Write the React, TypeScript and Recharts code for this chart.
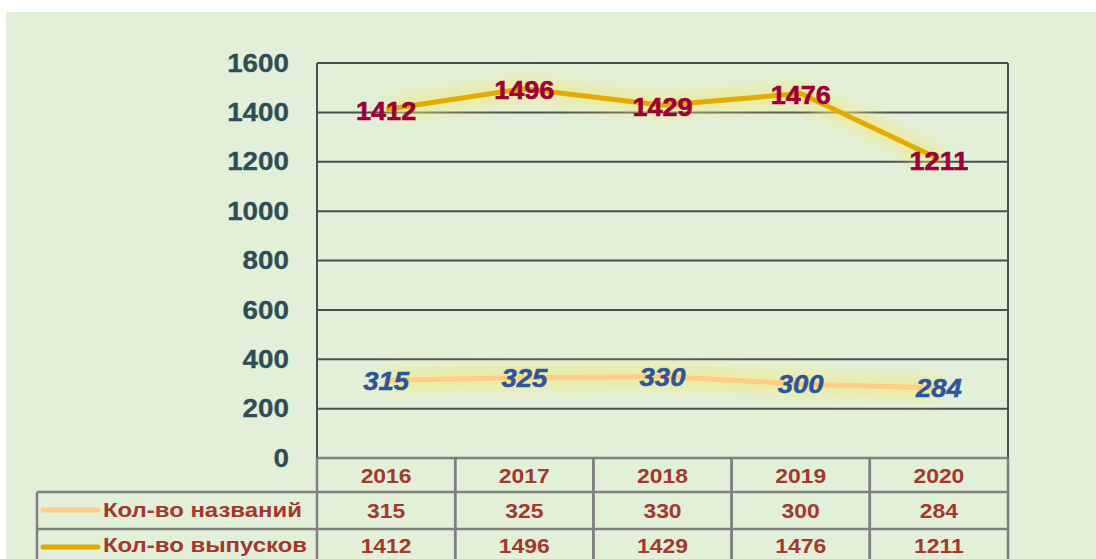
import React from "react";
import { LineChart, Line, XAxis, YAxis, CartesianGrid } from "recharts";

const years = ["2016", "2017", "2018", "2019", "2020"];
const titles = [315, 325, 330, 300, 284];
const issues = [1412, 1496, 1429, 1476, 1211];
const yTicks = [0, 200, 400, 600, 800, 1000, 1200, 1400, 1600];
const seriesNames = ["Кол-во названий", "Кол-во выпусков"];

const FONT = "Arial, 'Liberation Sans', sans-serif";
const TITLES_COLOR = "#ffcd85";
const ISSUES_COLOR = "#e3aa00";
const TABLE_TEXT = "#a3382e";
const BORDER = "#808080";

const data = years.map((year, i) => ({
  year,
  pos: i + 0.5,
  titles: titles[i],
  issues: issues[i],
}));

// text that is a bit wider than the font, as in the source picture
const Wide = ({ x, y, sx = 1.08, anchor = "middle", children, ...rest }: any) => (
  <text
    transform={`translate(${x},${y}) scale(${sx},1)`}
    textAnchor={anchor}
    dominantBaseline="central"
    fontFamily={FONT}
    fontWeight="bold"
    {...rest}
  >
    {children}
  </text>
);

const YTick = (props: any) => {
  const { x, y, payload } = props;
  return (
    <Wide x={x} y={y} sx={1.07} anchor="end" fontSize={26} fill="#2f4d55" stroke="#2f4d55" strokeWidth={0.3}>
      {payload.value}
    </Wide>
  );
};

const TableTick = (props: any) => {
  const { x, y, index, width } = props;
  const cw = width / years.length;
  const left = x - cw / 2;
  const right = x + cw / 2;
  const rows = [0, 34, 71];
  const legendW = 280;
  const tp = { fontSize: 21, fill: TABLE_TEXT, sx: 1.09 };
  return (
    <g>
      {rows.map((r) => (
        <line key={r} x1={left} x2={right} y1={y + r} y2={y + r} stroke={BORDER} strokeWidth={2.5} />
      ))}
      <line x1={left} x2={left} y1={y} y2={y + 120} stroke={BORDER} strokeWidth={2.5} />
      <line x1={right} x2={right} y1={y} y2={y + 120} stroke={BORDER} strokeWidth={2.5} />
      <Wide x={x} y={y + 17.5} {...tp}>{years[index]}</Wide>
      <Wide x={x} y={y + 52.5} {...tp}>{titles[index]}</Wide>
      <Wide x={x} y={y + 87.5} {...tp}>{issues[index]}</Wide>
      {index === 0 && (
        <g>
          <line x1={left - legendW} x2={left} y1={y + 34} y2={y + 34} stroke={BORDER} strokeWidth={2.5} />
          <line x1={left - legendW} x2={left} y1={y + 71} y2={y + 71} stroke={BORDER} strokeWidth={2.5} />
          <line x1={left - legendW} x2={left - legendW} y1={y + 34} y2={y + 120} stroke={BORDER} strokeWidth={2.5} />
          <line x1={left - legendW + 6} x2={left - legendW + 61} y1={y + 52} y2={y + 52} stroke={TITLES_COLOR} strokeWidth={5} strokeLinecap="round" />
          <line x1={left - legendW + 6} x2={left - legendW + 61} y1={y + 89} y2={y + 89} stroke={ISSUES_COLOR} strokeWidth={5} strokeLinecap="round" />
          <Wide x={left - legendW + 66} y={y + 52.5} anchor="start" {...tp} sx={1.14}>{seriesNames[0]}</Wide>
          <Wide x={left - legendW + 66} y={y + 87.5} anchor="start" {...tp} sx={1.14}>{seriesNames[1]}</Wide>
        </g>
      )}
    </g>
  );
};

const issuesLabel = (p: any) => (
  <Wide x={p.x} y={p.y + 2} sx={1.04} fontSize={26} fill="#9c0036" stroke="#9c0036" strokeWidth={0.6}>
    {p.value}
  </Wide>
);

const titlesLabel = (p: any) => (
  <Wide x={p.x} y={p.y + 1} sx={1.1} fontSize={25} fontStyle="italic" fill="#2e5597" stroke="#2e5597" strokeWidth={0.5}>
    {p.value}
  </Wide>
);

export default function App() {
  return (
    <div style={{ position: "absolute", left: 0, top: 0, width: 1096, height: 559, background: "#ffffff", overflow: "hidden" }}>
      <div style={{ position: "absolute", left: 6, top: 12, width: 1090, height: 547, background: "#e2efd9" }}>
        <LineChart width={1090} height={547} data={data} margin={{ top: 51, right: 88, bottom: 0, left: 0 }}>
          <defs>
            <filter id="glow" x="-20%" y="-200%" width="140%" height="500%">
              <feGaussianBlur stdDeviation="7" />
            </filter>
          </defs>
          <CartesianGrid xAxisId="grid" stroke="#4d4d4d" strokeWidth={2} />
          <XAxis
            xAxisId="grid"
            type="number"
            dataKey="pos"
            domain={[0, 5]}
            ticks={[1, 2, 3, 4, 5]}
            allowDataOverflow
            height={0}
            tick={false}
            axisLine={false}
            tickLine={false}
          />
          <XAxis
            xAxisId="table"
            type="number"
            dataKey="pos"
            domain={[0, 5]}
            ticks={data.map((d) => d.pos)}
            interval={0}
            height={101}
            tickSize={0}
            tickMargin={0}
            axisLine={false}
            tickLine={false}
            tick={<TableTick />}
          />
          <YAxis
            width={311}
            domain={[0, 1600]}
            ticks={yTicks}
            interval={0}
            tickSize={0}
            tickMargin={28}
            axisLine={false}
            tickLine={false}
            tick={<YTick />}
          />
          <Line xAxisId="grid" dataKey="titles" type="linear" stroke="#f0ea80" strokeOpacity={0.65} strokeWidth={22} filter="url(#glow)" dot={false} activeDot={false} isAnimationActive={false} />
          <Line xAxisId="grid" dataKey="titles" type="linear" stroke={TITLES_COLOR} strokeWidth={5} dot={false} activeDot={false} label={titlesLabel} isAnimationActive={false} />
          <Line xAxisId="grid" dataKey="issues" type="linear" stroke="#f0ea80" strokeOpacity={0.65} strokeWidth={22} filter="url(#glow)" dot={false} activeDot={false} isAnimationActive={false} />
          <Line xAxisId="grid" dataKey="issues" type="linear" stroke={ISSUES_COLOR} strokeWidth={5} dot={false} activeDot={false} label={issuesLabel} isAnimationActive={false} />
        </LineChart>
      </div>
    </div>
  );
}
